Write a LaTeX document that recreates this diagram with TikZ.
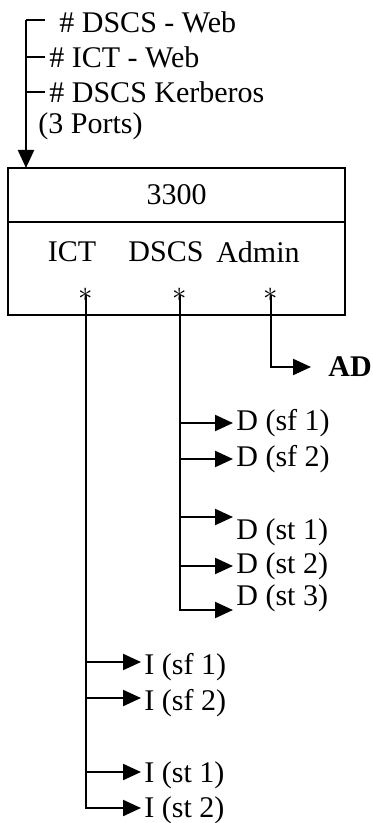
\documentclass[tikz,border=0pt]{standalone}
\usepackage{fontspec}
\setmainfont{Liberation Serif}
\usetikzlibrary{arrows.meta,positioning,calc}

\begin{document}
\begin{tikzpicture}[x=0.5pt, y=-0.5pt,
    % ---- styles ----
    T/.style={font=\fontsize{15}{17}\selectfont, inner sep=1.5pt},
    TB/.style={T, font=\fontsize{15}{17}\selectfont\bfseries},
    W/.style={line width=1.1pt},
    A/.style={W, -{Triangle[length=9pt, width=8pt]}},
    BX/.style={draw, W, outer sep=0pt, minimum width=168.5pt},
    ST/.style={font=\fontsize{15}{15}\selectfont, inner sep=0pt},
]
\useasboundingbox (0,0) rectangle (373,823);

% ===== Incoming ports =====
\coordinate (top) at (26,20);
\node[T, anchor=west] (web1)  at (56,22)  {\# DSCS - Web};
\node[T, anchor=west] (web2)  at (46,57)  {\# ICT - Web};
\node[T, anchor=west] (kerb)  at (46,92)  {\# DSCS Kerberos};
\node[T, anchor=west] (ports) at (35,126) {(3 Ports)};

% ===== Box 3300 =====
\node[BX, minimum height=27pt]   (head) at (176.5,195) {\fontsize{15}{17}\selectfont 3300};
\node[BX, minimum height=46.5pt, below=0pt of head] (body) {};

\node[T] (ict)  at (72,252)  {ICT};
\node[T] (dscs) at (166,252) {DSCS};
\node[T] (adm)  at (258,252) {Admin};
\node[ST] (sict)  at (86,295)  {$\ast$};
\node[ST] (sdscs) at (180,295) {$\ast$};
\node[ST] (sadm)  at (271,295) {$\ast$};

% ticks and arrow into the box
\draw[W] (top) -- ++(19,0);
\foreach \n in {web2, kerb}
    \draw[W] (top |- \n.west) -- ++(19,0);
\draw[A] (top) -- (top |- head.north);

% ===== Admin -> AD =====
\node[TB, anchor=west] (ad) at (325,367) {AD};
\draw[A, shorten >=7pt] (sadm.center) |- (ad.west);

% ===== DSCS branches =====
\node[T, anchor=west] (dsf1) at (233,423) {D (sf 1)};
\node[T, anchor=west] (dsf2) at (233,459) {D (sf 2)};
\node[T, anchor=west] (dst1) at (233,532) {D (st 1)};
\node[T, anchor=west] (dst2) at (233,566) {D (st 2)};
\node[T, anchor=west] (dst3) at (233,598) {D (st 3)};
\foreach \n/\dy in {dsf1/0, dsf2/0, dst1/7.5, dst2/0, dst3/-6}
    \draw[A] (sdscs.center) |- ([yshift=\dy pt]\n.west);

% ===== ICT branches =====
\node[T, anchor=west] (isf1) at (141,667) {I (sf 1)};
\node[T, anchor=west] (isf2) at (141,703) {I (sf 2)};
\node[T, anchor=west] (ist1) at (141,775) {I (st 1)};
\node[T, anchor=west] (ist2) at (141,810) {I (st 2)};
\foreach \n/\dy in {isf1/2.5, isf2/2.5, ist1/1.5, ist2/1}
    \draw[A] (sict.center) |- ([yshift=\dy pt]\n.west);

\end{tikzpicture}
\end{document}
